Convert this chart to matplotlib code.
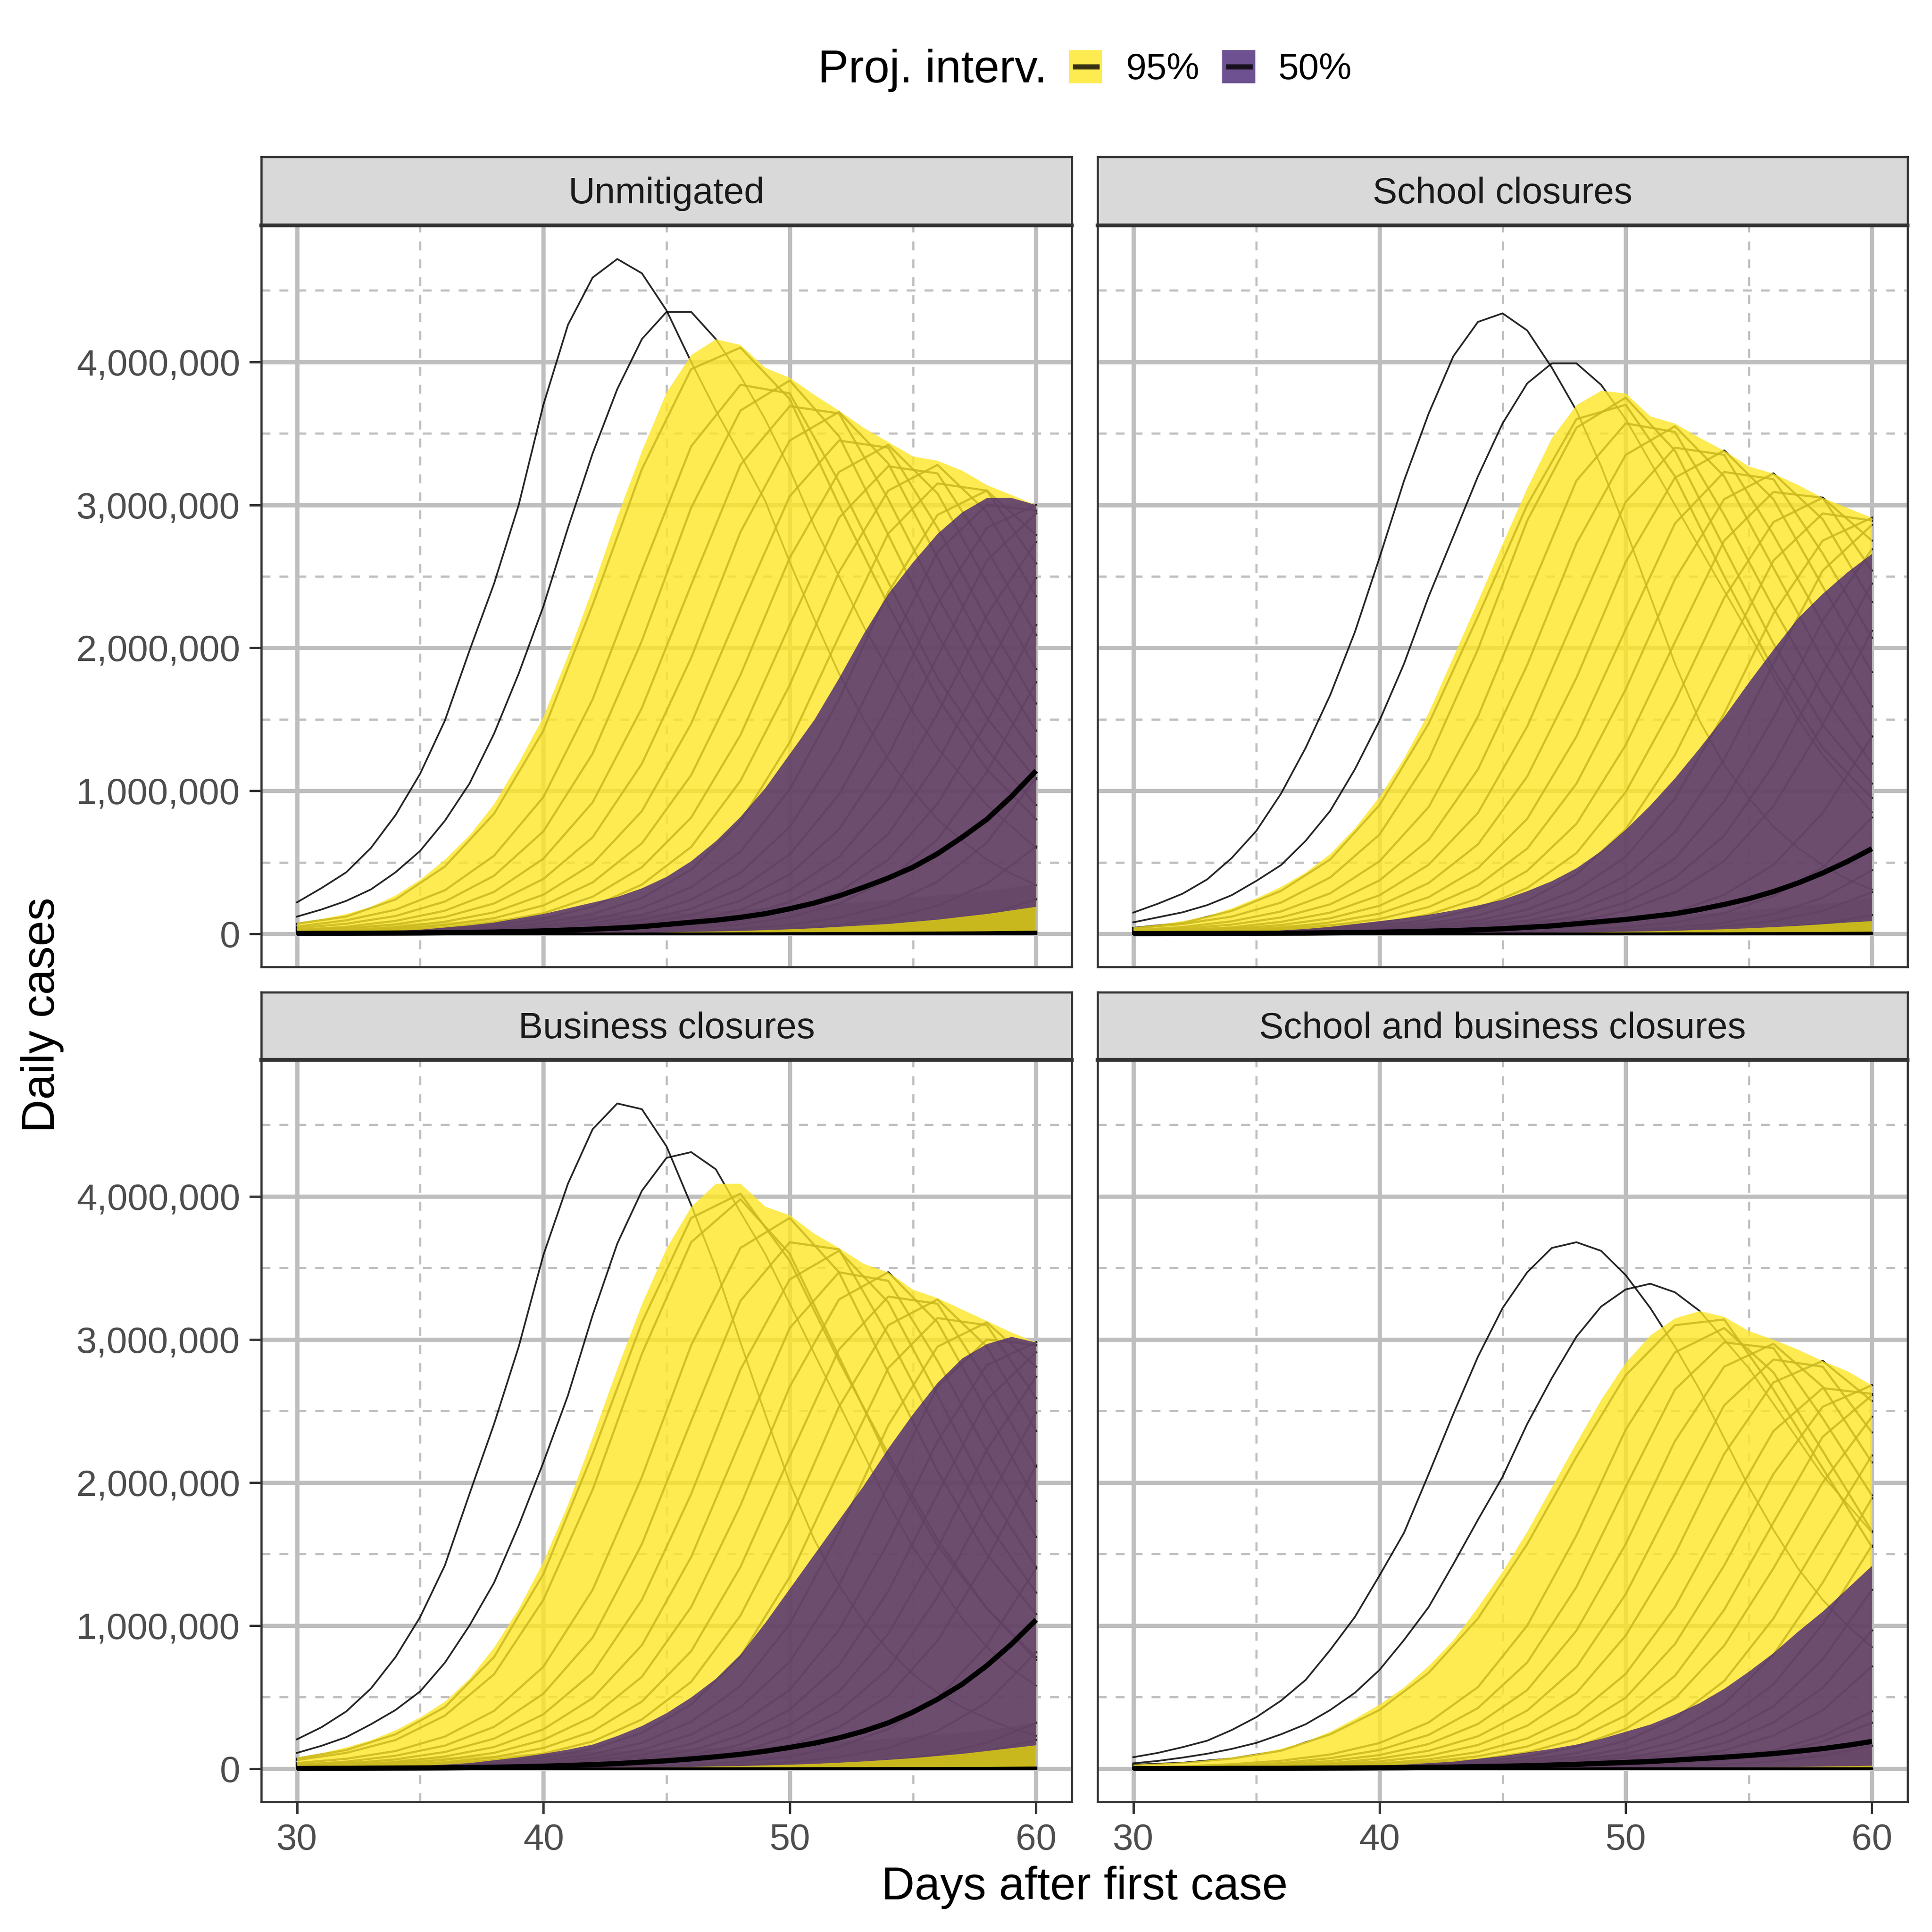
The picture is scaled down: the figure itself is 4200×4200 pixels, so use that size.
import matplotlib
matplotlib.use("Agg")
import matplotlib.pyplot as plt
import numpy as np
from matplotlib.lines import Line2D
from matplotlib.patches import Rectangle
from matplotlib.ticker import FuncFormatter

plt.rcParams["font.family"] = ["Liberation Sans", "DejaVu Sans"]

# all case counts are in millions
days = list(range(30, 61))
traj_days = list(range(30, 61, 2))
panel_titles = ["Unmitigated", "School closures", "Business closures", "School and business closures"]

unmit_q975 = [.08,.105,.14,.19,.27,.38,.52,.69,.91,1.2,1.52,1.95,2.42,2.92,3.38,3.79,4.05,4.16,4.12,3.96,3.89,3.77,3.66,3.54,3.44,3.34,3.31,3.24,3.14,3.07,3.0]
unmit_q75 = [.006,.008,.01,.015,.02,.03,.045,.06,.08,.11,.14,.18,.22,.26,.32,.40,.51,.65,.82,1.02,1.26,1.5,1.79,2.10,2.38,2.6,2.8,2.95,3.05,3.05,3.0]
unmit_q50 = [.002,.003,.003,.004,.005,.006,.008,.01,.012,.016,.02,.026,.032,.04,.05,.065,.08,.095,.115,.14,.175,.215,.265,.325,.39,.465,.56,.675,.80,.96,1.14]
unmit_q25 = [.001,.001,.001,.002,.002,.002,.003,.003,.004,.005,.006,.007,.008,.009,.01,.012,.015,.018,.022,.027,.033,.04,.05,.06,.07,.085,.10,.12,.14,.165,.19]
unmit_q025 = [.001,.001,.001,.001,.001,.001,.001,.001,.001,.001,.001,.002,.002,.002,.002,.003,.003,.003,.004,.004,.005,.005,.006,.006,.007,.008,.009,.01,.011,.013,.015]
unmit_dense = [.04,.05,.07,.08,.1,.12,.13,.14,.15,.17,.19,.21,.24,.27,.3,.35]
unmit_high1 = [.22,.32,.43,.60,.83,1.12,1.49,1.98,2.45,3.0,3.7,4.26,4.59,4.72,4.62,4.36,4.0,3.66,3.35,3.03,2.6,2.2,1.82,1.5,1.22,1.0,.8,.65,.52,.42,.34]
unmit_high2 = [.12,.17,.23,.31,.43,.58,.79,1.05,1.4,1.82,2.29,2.84,3.36,3.81,4.16,4.35,4.35,4.16,3.9,3.6,3.25,2.85,2.5,2.15,1.85,1.55,1.3,1.1,.9,.75,.6]
unmit_traj = [
    [.07,.12,.24,.47,.84,1.42,2.3,3.25,3.95,4.1,3.74,3.0,2.3,1.65,1.15,.8],
    [.05,.094,.168,.304,.546,.956,1.64,2.54,3.41,3.84,3.78,3.16,2.46,1.79,1.29,.90],
    [.039,.07,.124,.225,.406,.716,1.26,2.05,2.98,3.66,3.87,3.48,2.79,2.09,1.51,1.08],
    [.026,.049,.09,.161,.293,.525,.919,1.58,2.44,3.28,3.69,3.64,3.04,2.36,1.73,1.24],
    [.018,.037,.066,.117,.212,.383,.675,1.19,1.93,2.81,3.45,3.65,3.29,2.63,1.97,1.42],
    [.014,.025,.046,.084,.15,.273,.49,.858,1.47,2.28,3.06,3.45,3.4,2.84,2.2,1.61],
    [.01,.017,.034,.062,.109,.198,.359,.633,1.11,1.81,2.63,3.23,3.42,3.08,2.46,1.85],
    [.007,.013,.023,.043,.08,.143,.259,.465,.813,1.39,2.16,2.91,3.27,3.22,2.69,2.09],
    [.005,.01,.016,.033,.059,.105,.19,.344,.607,1.07,1.74,2.53,3.10,3.28,2.95,2.36],
    [.004,.007,.013,.022,.042,.077,.138,.25,.448,.784,1.34,2.08,2.80,3.15,3.10,2.59],
    [.002,.005,.009,.016,.031,.056,.099,.18,.326,.574,1.01,1.64,2.39,2.93,3.1,2.79],
    [.001,.003,.006,.012,.021,.04,.073,.131,.238,.427,.747,1.28,1.98,2.67,3.0,2.96],
    [.001,.002,.005,.009,.015,.03,.054,.096,.174,.315,.555,.975,1.59,2.31,2.84,3.0],
    [.001,.001,.003,.006,.012,.021,.039,.072,.129,.232,.417,.73,1.25,1.94,2.61,2.94],
    [.001,.001,.002,.004,.009,.015,.029,.052,.093,.168,.305,.537,.943,1.54,2.23,2.74],
    [.001,.001,.001,.003,.006,.011,.021,.037,.068,.123,.222,.4,.698,1.2,1.85,2.49],
    [.001,.001,.001,.002,.004,.008,.014,.028,.05,.09,.162,.294,.518,.91,1.48,2.16],
    [.001,.001,.001,.002,.004,.007,.011,.019,.035,.065,.116,.21,.378,.66,1.13,1.76],
    [.001,.001,.001,.001,.002,.003,.006,.01,.018,.034,.062,.112,.203,.364,.637,1.09],
    [.001,.001,.001,.001,.001,.002,.004,.007,.01,.018,.033,.06,.108,.195,.35,.61],
    [0,0,0,0,.001,.001,.001,.002,.004,.007,.012,.022,.04,.07,.13,.24],
]

school_q975 = [.047,.065,.09,.125,.18,.25,.33,.43,.56,.74,.96,1.23,1.55,1.94,2.33,2.73,3.12,3.47,3.70,3.80,3.78,3.62,3.57,3.47,3.38,3.27,3.22,3.14,3.05,2.98,2.91]
school_q75 = [.003,.004,.005,.007,.01,.015,.025,.035,.05,.07,.09,.11,.135,.165,.2,.24,.3,.37,.46,.58,.73,.90,1.09,1.30,1.52,1.76,1.99,2.21,2.38,2.53,2.66]
school_q50 = [.001,.001,.002,.002,.003,.003,.004,.005,.007,.009,.011,.014,.018,.022,.028,.035,.045,.055,.07,.085,.10,.12,.14,.17,.205,.245,.295,.355,.425,.505,.595]
school_q25 = [.001,.001,.001,.001,.001,.001,.002,.002,.002,.003,.003,.004,.004,.005,.006,.007,.008,.009,.011,.013,.016,.019,.023,.028,.033,.04,.048,.057,.068,.08,.09]
school_q025 = [.001,.001,.001,.001,.001,.001,.001,.001,.001,.001,.001,.001,.001,.001,.001,.002,.002,.002,.002,.003,.003,.003,.004,.004,.004,.005,.005,.006,.006,.007,.008]
school_dense = [.035,.04,.05,.06,.07,.08,.09,.1,.1,.11,.12,.13,.15,.18,.21,.25]
school_high1 = [.148,.21,.28,.38,.53,.72,.98,1.30,1.67,2.11,2.63,3.17,3.64,4.04,4.28,4.34,4.22,3.96,3.66,3.27,2.83,2.36,1.89,1.49,1.18,.95,.75,.6,.48,.38,.31]
school_high2 = [.08,.115,.15,.2,.27,.37,.48,.65,.86,1.15,1.49,1.89,2.36,2.78,3.2,3.57,3.85,3.99,3.99,3.84,3.6,3.3,3.0,2.7,2.4,2.1,1.8,1.5,1.25,1.05,.85]
school_traj = [
    [.04,.075,.16,.3,.52,.9,1.47,2.22,3.0,3.6,3.7,3.2,2.5,1.85,1.3,.95],
    [.038,.068,.12,.218,.394,.694,1.22,1.99,2.89,3.54,3.75,3.38,2.7,2.03,1.46,1.05],
    [.025,.047,.087,.156,.283,.507,.887,1.52,2.35,3.17,3.57,3.51,2.93,2.28,1.67,1.19],
    [.018,.036,.064,.114,.206,.373,.657,1.15,1.88,2.73,3.35,3.55,3.2,2.56,1.92,1.38],
    [.014,.024,.045,.083,.148,.269,.483,.845,1.45,2.24,3.02,3.40,3.35,2.79,2.17,1.59],
    [.01,.017,.034,.061,.108,.196,.355,.625,1.1,1.79,2.6,3.19,3.38,3.04,2.43,1.83],
    [.007,.013,.023,.043,.079,.141,.256,.459,.804,1.38,2.13,2.87,3.23,3.18,2.66,2.07],
    [.005,.01,.016,.032,.058,.103,.187,.338,.596,1.05,1.71,2.48,3.04,3.22,2.9,2.32],
    [.004,.007,.013,.022,.041,.075,.135,.245,.44,.769,1.32,2.04,2.75,3.09,3.05,2.54],
    [.002,.005,.009,.015,.031,.055,.098,.177,.32,.564,.991,1.62,2.35,2.88,3.05,2.75],
    [.001,.003,.006,.012,.021,.039,.072,.128,.232,.417,.73,1.25,1.94,2.61,2.94,2.89],
    [.001,.002,.004,.009,.015,.029,.052,.093,.169,.306,.538,.946,1.54,2.24,2.75,2.91],
    [.001,.001,.003,.006,.012,.02,.038,.07,.125,.226,.406,.71,1.22,1.89,2.54,2.86],
    [.001,.001,.002,.004,.009,.014,.029,.051,.091,.165,.299,.527,.926,1.51,2.19,2.69],
    [.001,.001,.001,.003,.006,.011,.02,.036,.067,.12,.218,.392,.686,1.18,1.82,2.45],
    [.001,.001,.001,.002,.004,.008,.014,.028,.05,.088,.16,.289,.509,.894,1.46,2.12],
    [.001,.001,.001,.001,.002,.004,.008,.013,.026,.047,.083,.151,.273,.481,.845,1.38],
    [0,0,.001,.001,.001,.002,.004,.008,.012,.025,.045,.08,.145,.263,.463,.813],
    [0,0,0,.001,.001,.001,.002,.004,.007,.012,.024,.043,.077,.139,.252,.444],
    [0,0,0,0,.001,.001,.001,.002,.004,.008,.015,.026,.05,.09,.16,.29],
    [0,0,0,0,0,.001,.001,.001,.002,.003,.006,.012,.022,.04,.07,.13],
]

business_q975 = [.08,.11,.15,.2,.27,.36,.47,.63,.85,1.12,1.45,1.85,2.32,2.8,3.25,3.64,3.93,4.09,4.09,3.93,3.87,3.74,3.64,3.53,3.47,3.35,3.29,3.21,3.13,3.05,2.98]
business_q75 = [.004,.006,.008,.01,.015,.02,.03,.04,.06,.08,.105,.135,.17,.23,.3,.39,.5,.63,.8,1.02,1.26,1.5,1.74,1.98,2.24,2.48,2.7,2.87,2.97,3.02,2.98]
business_q50 = [.001,.002,.002,.003,.004,.005,.006,.008,.01,.013,.017,.022,.028,.035,.045,.055,.068,.083,.10,.122,.148,.178,.215,.262,.32,.395,.485,.59,.72,.87,1.04]
business_q25 = [.001,.001,.001,.001,.002,.002,.002,.003,.003,.004,.005,.006,.007,.008,.01,.012,.014,.017,.02,.024,.029,.035,.043,.052,.063,.075,.09,.105,.125,.145,.165]
business_q025 = [.001,.001,.001,.001,.001,.001,.001,.001,.001,.001,.001,.001,.001,.001,.002,.002,.002,.002,.003,.003,.003,.004,.004,.004,.005,.005,.005,.006,.006,.007,.008]
business_dense = [.04,.05,.065,.08,.09,.11,.12,.13,.14,.15,.17,.19,.21,.24,.27,.32]
business_high1 = [.205,.29,.40,.56,.78,1.06,1.42,1.92,2.41,2.95,3.59,4.09,4.47,4.65,4.61,4.35,3.94,3.5,2.98,2.48,2.0,1.6,1.28,1.03,.83,.66,.53,.43,.35,.28,.23]
business_high2 = [.11,.16,.22,.31,.41,.54,.74,1.0,1.3,1.7,2.14,2.61,3.17,3.67,4.04,4.27,4.31,4.19,3.89,3.6,3.25,2.9,2.55,2.2,1.85,1.55,1.3,1.05,.85,.7,.58]
business_traj = [
    [.07,.13,.24,.43,.78,1.36,2.2,3.12,3.85,4.02,3.55,2.85,2.2,1.6,1.12,.78],
    [.06,.11,.2,.37,.66,1.18,1.95,2.9,3.68,3.98,3.6,2.88,2.16,1.56,1.12,.76],
    [.039,.069,.123,.224,.404,.712,1.25,2.04,2.96,3.64,3.85,3.47,2.77,2.08,1.5,1.08],
    [.026,.049,.09,.161,.292,.524,.916,1.57,2.43,3.27,3.68,3.63,3.03,2.36,1.72,1.23],
    [.018,.036,.065,.116,.21,.38,.67,1.18,1.92,2.79,3.42,3.62,3.26,2.61,1.95,1.41],
    [.014,.025,.046,.085,.151,.275,.493,.863,1.48,2.29,3.08,3.47,3.41,2.85,2.22,1.62],
    [.01,.017,.035,.062,.11,.201,.364,.642,1.13,1.84,2.67,3.28,3.47,3.12,2.5,1.87],
    [.007,.013,.023,.044,.08,.144,.261,.469,.821,1.41,2.18,2.93,3.3,3.25,2.71,2.11],
    [.005,.01,.016,.033,.059,.105,.19,.344,.607,1.07,1.74,2.53,3.10,3.28,2.95,2.36],
    [.004,.007,.013,.022,.042,.077,.138,.25,.448,.784,1.34,2.08,2.80,3.15,3.10,2.59],
    [.002,.005,.009,.016,.031,.056,.1,.181,.328,.577,1.01,1.65,2.4,2.95,3.12,2.81],
    [.001,.003,.006,.012,.021,.04,.073,.131,.238,.427,.747,1.28,1.98,2.67,3.0,2.96],
    [.001,.002,.005,.009,.015,.03,.054,.095,.173,.313,.551,.969,1.58,2.29,2.82,2.98],
    [.001,.001,.003,.006,.012,.021,.038,.071,.127,.23,.413,.723,1.24,1.92,2.58,2.91],
    [.001,.001,.002,.004,.009,.015,.029,.052,.093,.168,.305,.537,.943,1.54,2.23,2.74],
    [.001,.001,.001,.003,.006,.011,.021,.037,.068,.123,.222,.4,.698,1.2,1.85,2.49],
    [.001,.001,.001,.002,.004,.008,.014,.028,.05,.088,.16,.289,.509,.894,1.46,2.12],
    [0,.001,.001,.001,.002,.004,.008,.014,.026,.048,.085,.154,.278,.49,.861,1.4],
    [0,0,.001,.001,.001,.002,.004,.008,.012,.025,.045,.08,.145,.263,.463,.813],
    [0,0,0,.001,.001,.001,.001,.003,.005,.009,.017,.03,.055,.10,.18,.32],
    [0,0,0,0,.001,.001,.001,.002,.003,.006,.011,.02,.036,.066,.12,.2],
]

both_q975 = [.03,.037,.046,.06,.08,.105,.14,.19,.26,.35,.45,.57,.72,.90,1.13,1.38,1.66,1.97,2.28,2.58,2.84,3.03,3.15,3.20,3.16,3.06,3.0,2.93,2.85,2.78,2.68]
both_q75 = [.002,.002,.003,.004,.004,.005,.007,.009,.012,.016,.022,.03,.04,.05,.07,.09,.115,.14,.17,.21,.26,.31,.38,.46,.56,.68,.81,.96,1.10,1.26,1.42]
both_q50 = [.001,.001,.001,.001,.002,.002,.002,.003,.004,.005,.006,.007,.009,.011,.014,.017,.02,.025,.03,.037,.043,.05,.06,.07,.08,.092,.105,.122,.14,.163,.19]
both_q25 = [.001,.001,.001,.001,.001,.001,.001,.001,.001,.001,.001,.002,.002,.002,.002,.003,.003,.004,.004,.005,.005,.006,.007,.008,.009,.01,.012,.014,.016,.019,.022]
both_q025 = [.001,.001,.001,.001,.001,.001,.001,.001,.001,.001,.001,.001,.001,.001,.001,.001,.001,.001,.001,.002,.002,.002,.002,.002,.002,.002,.002,.003,.003,.003,.003]
both_dense = [.02,.02,.025,.03,.04,.05,.06,.07,.08,.09,.1,.11,.12,.13,.15,.17]
both_high1 = [.08,.11,.15,.195,.27,.36,.475,.62,.83,1.06,1.35,1.65,2.06,2.48,2.88,3.22,3.47,3.64,3.68,3.62,3.45,3.22,2.95,2.65,2.31,1.97,1.67,1.40,1.18,1.0,.85]
both_high2 = [.037,.054,.077,.104,.138,.18,.24,.31,.41,.53,.69,.90,1.13,1.43,1.74,2.04,2.41,2.73,3.02,3.23,3.35,3.39,3.33,3.20,3.0,2.8,2.55,2.3,2.05,1.85,1.65]
both_traj = [
    [.026,.04,.07,.125,.24,.41,.67,1.05,1.57,2.18,2.75,3.1,3.14,2.65,2.1,1.55],
    [.009,.016,.031,.055,.099,.179,.323,.57,1.0,1.63,2.37,2.91,3.08,2.77,2.22,1.66],
    [.007,.012,.021,.039,.073,.13,.236,.424,.742,1.27,1.97,2.65,2.98,2.94,2.45,1.91],
    [.005,.009,.015,.03,.053,.095,.172,.312,.549,.965,1.57,2.29,2.81,2.97,2.67,2.14],
    [.003,.006,.012,.02,.038,.07,.125,.226,.406,.71,1.22,1.89,2.54,2.86,2.81,2.35],
    [.002,.005,.009,.014,.029,.051,.09,.165,.3,.53,.93,1.5,2.2,2.7,2.85,2.57],
    [.001,.003,.005,.011,.019,.035,.065,.116,.211,.378,.662,1.13,1.76,2.36,2.66,2.62],
    [.001,.002,.004,.008,.013,.027,.048,.086,.155,.281,.496,.871,1.42,2.06,2.53,2.68],
    [.001,.001,.003,.005,.011,.019,.035,.064,.114,.206,.371,.649,1.11,1.72,2.32,2.61],
    [0,.001,.002,.004,.008,.013,.026,.047,.085,.153,.278,.49,.86,1.4,2.0,2.46],
    [.001,.001,.001,.003,.005,.01,.018,.033,.06,.108,.195,.35,.613,1.05,1.63,2.19],
    [.001,.001,.001,.002,.004,.007,.012,.025,.044,.078,.142,.257,.453,.796,1.3,1.89],
    [.001,.001,.001,.001,.003,.005,.01,.017,.031,.058,.103,.187,.336,.588,1.01,1.56],
    [0,.001,.001,.001,.002,.004,.007,.012,.024,.042,.075,.136,.247,.435,.764,1.25],
    [0,0,.001,.001,.001,.002,.005,.009,.016,.03,.055,.099,.179,.322,.564,.966],
    [0,0,.001,.001,.001,.002,.004,.007,.011,.022,.04,.07,.128,.231,.407,.715],
    [0,0,0,0,.001,.001,.002,.004,.006,.012,.022,.04,.07,.128,.228,.40],
    [0,0,0,.001,.001,.001,.002,.003,.005,.01,.018,.032,.059,.106,.189,.32],
    [0,0,0,0,0,0,.001,.001,.002,.005,.008,.015,.028,.05,.09,.16],
]

q975 = [unmit_q975, school_q975, business_q975, both_q975]
q75 = [unmit_q75, school_q75, business_q75, both_q75]
q50 = [unmit_q50, school_q50, business_q50, both_q50]
q25 = [unmit_q25, school_q25, business_q25, both_q25]
q025 = [unmit_q025, school_q025, business_q025, both_q025]
dense = [unmit_dense, school_dense, business_dense, both_dense]
high1 = [unmit_high1, school_high1, business_high1, both_high1]
high2 = [unmit_high2, school_high2, business_high2, both_high2]
trajs = [unmit_traj, school_traj, business_traj, both_traj]

W = H = 4200
BORDER = "#333333"
GRID = "#BEBEBE"
YELLOW = "#FDE725"
PURPLE = "#482576"


def px_rect(left, right, top, bottom):
    return [left / W, 1 - bottom / H, (right - left) / W, (bottom - top) / H]


def to_cases(vals):
    return np.array(vals) * 1e6


fig = plt.figure(figsize=(7, 7), dpi=600)

cols = [(568, 2330), (2386, 4147)]
rows = [(341, 490, 2102), (2157, 2304, 3917)]

for i in range(4):
    c, r = cols[i % 2], rows[i // 2]
    ax = fig.add_axes(px_rect(c[0], c[1], r[1], r[2]))
    strip = fig.add_axes(px_rect(c[0], c[1], r[0], r[1]))

    # dark thin curves sit under the ribbons, that is why they fade inside
    for t in trajs[i]:
        ax.plot(traj_days, to_cases(t), color="black", alpha=0.85, lw=0.55, zorder=2)
    ax.plot(days, to_cases(high1[i]), color="black", alpha=0.85, lw=0.45, zorder=2)
    ax.plot(days, to_cases(high2[i]), color="black", alpha=0.85, lw=0.45, zorder=2)
    # bottom curves are so dense they merge to solid
    ax.fill_between(traj_days, 0, to_cases(dense[i]), color="black", alpha=0.45, lw=0, zorder=2)
    ax.fill_between(days, to_cases(q025[i]), to_cases(q25[i]), color="black", lw=0, zorder=2)
    ax.fill_between(days, 0, to_cases(q025[i]), color="black", lw=0.6, zorder=6)

    ax.fill_between(days, to_cases(q025[i]), to_cases(q975[i]), color=YELLOW, alpha=0.8, lw=0, zorder=3)
    ax.fill_between(days, to_cases(q25[i]), to_cases(q75[i]), color=PURPLE, alpha=0.8, lw=0, zorder=4)
    ax.plot(days, to_cases(q50[i]), color="black", lw=1.35, zorder=5, solid_capstyle="butt")

    ax.set_xlim(28.55, 61.45)
    ax.set_ylim(-0.232e6, 4.955e6)
    ax.set_xticks([30, 40, 50, 60])
    ax.set_xticks([35, 45, 55], minor=True)
    ax.set_yticks([0, 1e6, 2e6, 3e6, 4e6])
    ax.set_yticks([.5e6, 1.5e6, 2.5e6, 3.5e6, 4.5e6], minor=True)
    ax.yaxis.set_major_formatter(FuncFormatter(lambda v, p: f"{int(v):,}"))
    ax.set_axisbelow(True)
    ax.grid(which="major", color=GRID, lw=1.1)
    ax.grid(which="minor", color=GRID, lw=0.55, linestyle=(0, (4.2, 4.3)))
    ax.tick_params(which="minor", length=0)
    ax.tick_params(which="major", length=3.1, width=0.6, color=BORDER, labelcolor="#4D4D4D",
                   labelsize=9.6, pad=2.4,
                   left=i % 2 == 0, labelleft=i % 2 == 0,
                   bottom=i // 2 == 1, labelbottom=i // 2 == 1)
    for s in ax.spines.values():
        s.set_color(BORDER)
        s.set_linewidth(0.55)
        s.set_zorder(10)

    strip.set_facecolor("#D9D9D9")
    strip.set_xticks([])
    strip.set_yticks([])
    for s in strip.spines.values():
        s.set_color(BORDER)
        s.set_linewidth(0.55)
    strip.spines["bottom"].set_linewidth(1.0)
    strip.text(0.5, 0.46, panel_titles[i], transform=strip.transAxes, ha="center", va="center",
               fontsize=9.6, color="#1A1A1A")

fig.text(2358 / W, 1 - 4129 / H, "Days after first case", ha="center", va="baseline", fontsize=12)
fig.text(92 / W, 1 - 2206 / H, "Daily cases", ha="center", va="center", rotation=90, fontsize=12)

# legend is placed by hand, keys are 72 px squares
fig.text(1778 / W, 1 - 179 / H, "Proj. interv.", ha="left", va="baseline", fontsize=12)
for x0, col, lab, tx in [(2324, YELLOW, "95%", 2447), (2657, PURPLE, "50%", 2779)]:
    fig.add_artist(Rectangle((x0 / W, 1 - 181 / H), 72 / W, 72 / H, transform=fig.transFigure,
                             facecolor=col, alpha=0.8, lw=0))
    fig.add_artist(Line2D([(x0 + 8) / W, (x0 + 66) / W], [1 - 144.5 / H, 1 - 144.5 / H],
                          transform=fig.transFigure, color="black", alpha=0.8, lw=1.35,
                          solid_capstyle="butt"))
    fig.text(tx / W, 1 - 172 / H, lab, ha="left", va="baseline", fontsize=9.6)

fig.savefig("out.png", dpi=600)
